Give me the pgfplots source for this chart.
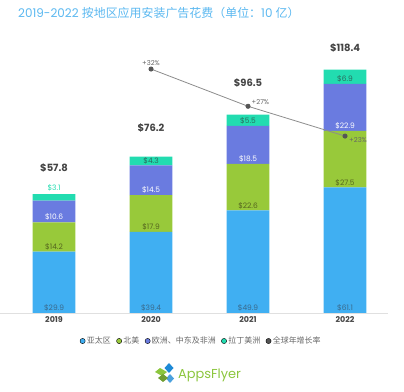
\documentclass[border=0pt]{standalone}
\usepackage{fontspec}
\usepackage{pgfplots}
\pgfplotsset{compat=1.18}
\setmainfont{Poppins}
\newfontfamily\cjk{Noto Sans CJK SC}
\definecolor{asia}{HTML}{40AFF2}
\definecolor{na}{HTML}{98C93A}
\definecolor{emea}{HTML}{6A7BE0}
\definecolor{latam}{HTML}{22DCB0}
\definecolor{growth}{HTML}{555555}
\definecolor{titleblue}{HTML}{5BB8F0}
\definecolor{asialbl}{HTML}{3A6A8C}
\definecolor{nalbl}{HTML}{55661F}
\definecolor{latamlbl}{HTML}{2B6B5E}
\definecolor{ticktext}{HTML}{444444}
\definecolor{logogreen}{HTML}{8CC63E}
\definecolor{logoblue}{HTML}{1E8AD6}
\tikzset{
  lbl/.style={anchor=south, inner sep=0, yshift=1.5bp, font=\fontsize{7.5}{8}\selectfont},
  tot/.style={anchor=center, inner sep=0, font=\bfseries\fontsize{10}{11}\selectfont, text=ticktext},
  glbl/.style={inner sep=0, font=\fontsize{6.8}{7}\selectfont, text=black!60}}
\pgfplotsset{overlay/.style={at={(0bp,79bp)}, anchor=south west, width=388bp, height=257bp,
  scale only axis, xmin=-0.557, xmax=3.443, clip=false}}
\begin{document}
\begin{tikzpicture}
\useasboundingbox (0bp,0bp) rectangle (404bp,392bp);
\node[anchor=west, text=titleblue, inner sep=0, font=\fontsize{12}{14}\selectfont] at (18bp,379bp)
  {2019-2022 {\cjk 按地区应用安装广告花费（单位：}10 {\cjk 亿）}};
\begin{axis}[overlay, ymin=0, ymax=125,
  axis x line=bottom, axis y line=none, x axis line style={black!12,-},
  ytick=\empty, xtick={0,1,2,3}, xticklabels={2019,2020,2021,2022},
  major tick length=0,
  xticklabel style={font=\bfseries\fontsize{8}{9}\selectfont, text=ticktext, yshift=-0.5bp},
  ybar stacked, bar width=0.44]
\addplot[fill=asia, draw=none] coordinates {(0,29.9) (1,39.4) (2,49.9) (3,61.1)};
\addplot[fill=na, draw=none] coordinates {(0,14.2) (1,17.9) (2,22.6) (3,27.5)};
\addplot[fill=emea, draw=none] coordinates {(0,10.6) (1,14.5) (2,18.5) (3,22.9)};
\addplot[fill=latam, draw=none] coordinates {(0,3.1) (1,4.3) (2,5.5) (3,6.9)};
\end{axis}
\begin{axis}[overlay, ymin=0, ymax=125, axis lines=none]
% segment labels
\node[lbl, text=asialbl] at (axis cs:0,0) {\$29.9};
\node[lbl, text=asialbl] at (axis cs:1,0) {\$39.4};
\node[lbl, text=asialbl] at (axis cs:2,0) {\$49.9};
\node[lbl, text=asialbl] at (axis cs:3,0) {\$61.1};
\node[lbl, text=nalbl] at (axis cs:0,29.9) {\$14.2};
\node[lbl, text=nalbl] at (axis cs:1,39.4) {\$17.9};
\node[lbl, text=nalbl] at (axis cs:2,49.9) {\$22.6};
\node[lbl, text=nalbl] at (axis cs:3,61.1) {\$27.5};
\node[lbl, text=white] at (axis cs:0,44.1) {\$10.6};
\node[lbl, text=white] at (axis cs:1,57.3) {\$14.5};
\node[lbl, text=white] at (axis cs:2,72.5) {\$18.5};
\node[lbl, text=white] at (axis cs:3,88.6) {\$22.9};
\node[lbl, text=latam, yshift=1bp] at (axis cs:0,57.8) {\$3.1};
\node[lbl, text=latamlbl] at (axis cs:1,71.8) {\$4.3};
\node[lbl, text=latamlbl] at (axis cs:2,91.0) {\$5.5};
\node[lbl, text=latamlbl] at (axis cs:3,111.5) {\$6.9};
% totals
\node[tot] at (axis cs:0,70.6) {\$57.8};
\node[tot] at (axis cs:1,90.0) {\$76.2};
\node[tot] at (axis cs:2,111.9) {\$96.5};
\node[tot] at (axis cs:3,129.0) {\$118.4};
\end{axis}
\begin{axis}[overlay, ymin=-0.75, ymax=33.75, axis lines=none,
  legend image code/.code={\fill[#1] (0bp,0bp) circle (2.6bp);},
  legend style={at={(0.518,-0.109)}, anchor=center, draw=none, fill=none,
    legend columns=-1, font=\cjk\fontsize{8}{9}\selectfont, text=black!60,
    /tikz/every even column/.append style={column sep=4bp},
    nodes={inner sep=1.5bp}}]
\addlegendimage{fill=asia}
\addlegendimage{fill=na}
\addlegendimage{fill=emea}
\addlegendimage{fill=latam}
\addlegendimage{fill=growth}
\addplot[color=black!45, line width=0.8bp, mark=*, mark size=2.1bp,
  mark options={fill=growth, draw=growth}, forget plot] coordinates {(1,32) (2,27) (3,23)};
\node[glbl, anchor=south, yshift=3.5bp] at (axis cs:1,32) {+32\%};
\node[glbl, anchor=south west, xshift=3.5bp, yshift=1bp] at (axis cs:2,27) {+27\%};
\node[glbl, anchor=west, xshift=4bp, yshift=-4bp] at (axis cs:3,23) {+23\%};
\legend{亚太区,北美,欧洲、中东及非洲,拉丁美洲,全球年增长率}
\end{axis}
% logo
\fill[logoblue] (169bp,29bp) -- (173.5bp,24bp) -- (169bp,19bp) -- (164.5bp,24bp) -- cycle;
\fill[logoblue!80] (170bp,9bp) -- (174bp,13.5bp) -- (170bp,18bp) -- (166bp,13.5bp) -- cycle;
\fill[logogreen] (155bp,20bp) -- (160bp,24bp) -- (167bp,20bp) -- (162bp,16bp) -- cycle;
\fill[logogreen!80!black] (158bp,14bp) -- (163bp,18bp) -- (168bp,14bp) -- (163bp,10bp) -- cycle;
\node[anchor=west, inner sep=0, text=logogreen, font=\fontsize{13}{14}\selectfont] at (178bp,17bp) {AppsFlyer};
\end{tikzpicture}
\end{document}
